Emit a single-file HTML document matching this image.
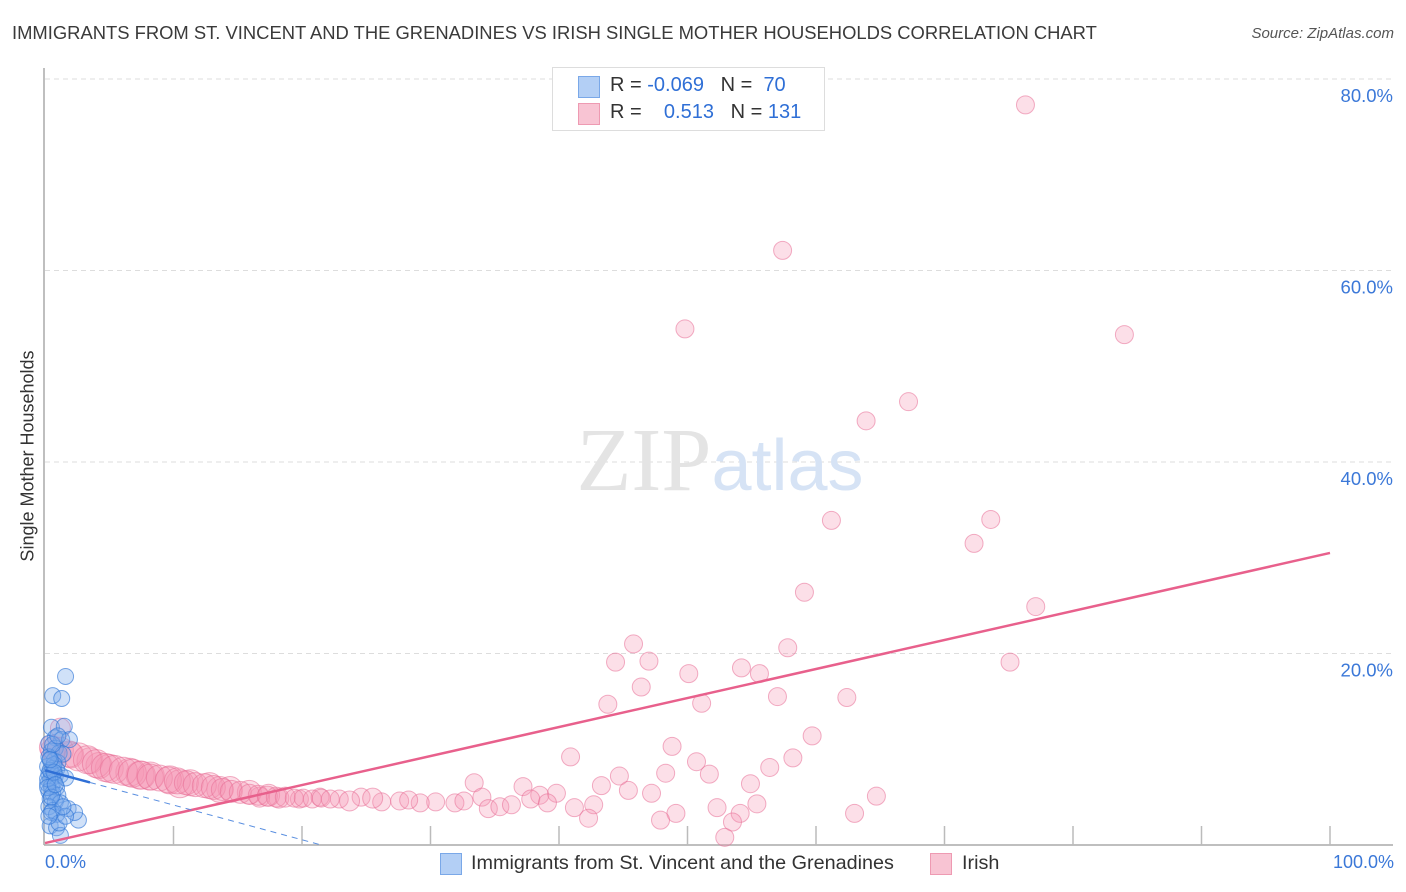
<!DOCTYPE html>
<html><head><meta charset="utf-8"><style>
body{margin:0;background:#fff;font-family:"Liberation Sans",sans-serif;}
#wrap{position:relative;width:1406px;height:892px;overflow:hidden;}
.t{position:absolute;white-space:nowrap;}
</style></head><body>
<div id="wrap">
<div class="t" style="left:12px;top:22px;font-size:18.4px;color:#3a3a3a;">IMMIGRANTS FROM ST. VINCENT AND THE GRENADINES VS IRISH SINGLE MOTHER HOUSEHOLDS CORRELATION CHART</div>
<div class="t" style="right:12px;top:25px;font-size:15px;color:#555;font-style:italic;">Source: ZipAtlas.com</div>
<div class="t" style="left:28px;top:456px;font-size:18px;color:#333;transform:translate(-50%,-50%) rotate(-90deg);">Single Mother Households</div>
<svg id="plot" width="1406" height="892" style="position:absolute;left:0;top:0"></svg>
<div class="t" style="left:552px;top:67px;width:271px;height:62px;border:1px solid #ddd;background:#fff;font-size:20px;color:#333;">
 <div style="position:absolute;left:25px;top:8px;width:20px;height:20px;background:#b3cff5;border:1px solid #7aa8e8;"></div>
 <div class="t" style="left:57px;top:6px;">R = <span style="color:#2f6fd6">-0.069</span>&nbsp;&nbsp;&nbsp;N = &nbsp;<span style="color:#2f6fd6">70</span></div>
 <div style="position:absolute;left:25px;top:35px;width:20px;height:20px;background:#f8c4d3;border:1px solid #ee9ab2;"></div>
 <div class="t" style="left:57px;top:33px;">R = &nbsp;&nbsp;&nbsp;<span style="color:#2f6fd6">0.513</span>&nbsp;&nbsp;&nbsp;N = <span style="color:#2f6fd6">131</span></div>
</div>
<div class="t" style="left:45px;top:852px;font-size:18px;color:#3b78d8;">0.0%</div>
<div class="t" style="right:12px;top:852px;font-size:18px;color:#3b78d8;">100.0%</div>
<div style="position:absolute;left:440px;top:853px;width:20px;height:20px;background:#b3cff5;border:1px solid #7aa8e8;"></div>
<div class="t" style="left:471px;top:852px;font-size:19.8px;color:#333;">Immigrants from St. Vincent and the Grenadines</div>
<div style="position:absolute;left:930px;top:853px;width:20px;height:20px;background:#f8c4d3;border:1px solid #ee9ab2;"></div>
<div class="t" style="left:962px;top:852px;font-size:19.8px;color:#333;">Irish</div>
</div>
<script>
const yTicks=[20,40,60,80];
const yTickLabels=["20.0%","40.0%","60.0%","80.0%"];
const xTicks=[0,10,20,30,40,50,60,70,80,90,100];
const pinkX=[76.3,57.4,49.8,84.0,67.2,63.9,61.2,73.6,72.3,59.1,77.1,45.8,57.8,44.4,47.0,75.1,54.2,50.1,55.6,46.4,57.0,62.4,43.8,51.1,59.7,48.8,40.9,58.2,50.7,56.4,48.3,44.7,51.7,33.4,37.2,43.3,54.9,45.4,47.2,64.7,39.8,34.0,38.5,42.7,41.2,42.3,52.3,55.4,54.1,53.5,52.9,49.1,47.9,63.0,34.5,35.4,31.9,30.4,29.2,27.6,26.2,24.6,22.9,21.4,19.8,18.2,16.7,0.6,2.0,3.5,5.0,6.6,8.2,9.7,11.3,12.8,14.4,15.9,17.4,1.2,4.2,7.4,10.5,13.6,23.7,25.5,28.3,32.6,36.3,37.8,39.1,
0.5,1.2,1.9,2.6,3.3,4.0,4.7,5.4,6.1,6.8,7.5,8.2,8.9,9.6,10.3,11.0,11.7,12.4,13.1,13.8,14.5,15.2,15.9,16.6,17.3,18.0,18.7,19.4,20.1,20.8,21.5,22.2];
const pinkY=[77.3,62.1,53.9,53.3,46.3,44.3,33.9,34.0,31.5,26.4,24.9,21.0,20.6,19.1,19.2,19.1,18.5,17.9,17.9,16.5,15.5,15.4,14.7,14.8,11.4,10.3,9.2,9.1,8.7,8.1,7.5,7.2,7.4,6.5,6.1,6.2,6.4,5.7,5.4,5.1,5.4,5.0,5.2,4.2,3.9,2.8,3.9,4.3,3.3,2.4,0.8,3.3,2.6,3.3,3.8,4.0,4.4,4.5,4.4,4.6,4.5,5.0,4.8,5.0,4.8,4.9,5.0,9.9,9.4,8.8,8.0,7.6,7.2,6.8,6.5,6.2,5.9,5.5,5.2,12.2,8.3,7.3,6.4,5.8,4.6,4.9,4.7,4.6,4.2,4.8,4.4,
10.2,9.9,9.5,9.2,8.9,8.5,8.1,7.9,7.7,7.5,7.3,7.1,7.0,6.8,6.7,6.5,6.3,6.2,6.0,5.8,5.6,5.5,5.3,5.2,5.1,5.0,5.0,4.9,4.9,4.8,4.9,4.8];
const pinkR=[9,9,9,9,9,9,9,9,9,9,9,9,9,9,9,9,9,9,9,9,9,9,9,9,9,9,9,9,9,9,9,9,9,9,9,9,9,9,9,9,9,9,9,9,9,9,9,9,9,9,9,9,9,9,9,9,9,9,9,9,9,9,9,9,9,10,10,12,13,13,14,14,14,14,13,13,12,12,11,10,13,14,14,13,10,10,9,9,9,9,9,
12,13,13,14,14,14,14,14,14,14,14,13,13,13,13,12,12,12,12,11,11,11,10,10,10,10,10,9,9,9,9,9];
const blueX=[1.6,0.6,1.3,0.5,1.5,0.8,1.3,1.9,0.3,0.5,0.8,1.1,0.4,0.7,1.0,1.4,0.2,0.6,0.9,0.3,0.5,0.8,1.2,0.4,0.7,0.2,0.5,0.9,1.6,0.3,0.6,1.0,0.4,0.8,1.2,0.3,0.6,1.8,0.5,2.6,0.9,2.3,0.4,0.9,1.2,1.1,1.6,0.2,0.4,0.7,0.3,0.6,1.0,0.2,0.5,1.4,0.3,0.7,0.4,0.8];
const blueY=[17.6,15.6,15.3,12.3,12.4,11.2,11.0,11.0,10.6,9.8,10.1,9.6,9.0,8.8,8.6,9.5,8.2,8.0,7.9,7.4,7.5,7.2,7.3,6.8,6.6,6.4,6.1,6.0,7.0,5.6,5.4,5.2,4.8,4.5,4.4,4.0,3.6,3.8,3.4,2.6,3.2,3.4,2.0,1.8,1.0,2.3,3.0,6.9,7.8,8.4,9.2,10.5,11.4,6.0,5.0,4.0,3.0,7.6,8.9,6.3];
const pinkTrend=[0.2,30.5];
const blueTrend=[7.8,0.0];
const X=v=>45+v*12.85, Y=v=>845-v*9.575;
const svg=document.getElementById('plot');const NS='http://www.w3.org/2000/svg';
function mk(t,a){const e=document.createElementNS(NS,t);for(const k in a)e.setAttribute(k,a[k]);svg.appendChild(e);return e;}
yTicks.forEach((v,i)=>{
 const g=mk('line',{x1:45,x2:1393,y1:Y(v),y2:Y(v),stroke:'#ddd','stroke-dasharray':'5,4'});
 
 
 const t=mk('text',{x:1393,y:Y(v)+23,'text-anchor':'end','font-size':18.5,fill:'#3b78d8','font-family':'Liberation Sans, sans-serif'});
 t.textContent=yTickLabels[i];
 
 
});
const wm=mk('text',{x:720,y:490,'text-anchor':'middle','font-size':90,'font-family':'Liberation Serif, serif',fill:'#e4e4e4'});
wm.innerHTML='ZIP<tspan fill="#d6e3f5" font-family="Liberation Sans, sans-serif" font-size="72">atlas</tspan>';


const ya=mk('line',{x1:44,x2:44,y1:68,y2:845,stroke:'#aaa','stroke-width':1.5});


const xa=mk('line',{x1:44,x2:1393,y1:845,y2:845,stroke:'#aaa','stroke-width':1.5});


xTicks.forEach(v=>{if(v===0)return;const l=mk('line',{x1:X(v),x2:X(v),y1:826,y2:845,stroke:'#bbb','stroke-width':1.5});
 
 });
pinkX.forEach((x,i)=>{const c=mk('circle',{cx:X(x),cy:Y(pinkY[i]),r:pinkR[i],fill:'rgba(245,150,180,0.3)',stroke:'rgba(232,110,150,0.55)','stroke-width':1});
 
 });
blueX.forEach((x,i)=>{const c=mk('circle',{cx:X(x),cy:Y(blueY[i]),r:8,fill:'rgba(120,170,235,0.35)',stroke:'rgba(50,120,215,0.65)','stroke-width':1});
 
 });
const pl=mk('line',{x1:X(0),y1:Y(pinkTrend[0]),x2:X(100),y2:Y(pinkTrend[1]),stroke:'#e8608c','stroke-width':2.5});


const bs=(v)=>blueTrend[0]+(blueTrend[1]-blueTrend[0])*v/21.5;
const bl=mk('line',{x1:X(0),y1:Y(bs(0)),x2:X(3.5),y2:Y(bs(3.5)),stroke:'#2f6fd6','stroke-width':2.5});


const bd=mk('line',{x1:X(3.5),y1:Y(bs(3.5)),x2:X(21.5),y2:Y(bs(21.5)),stroke:'#5a8fe0','stroke-width':1,'stroke-dasharray':'6,5'});


</script>
</body></html>
